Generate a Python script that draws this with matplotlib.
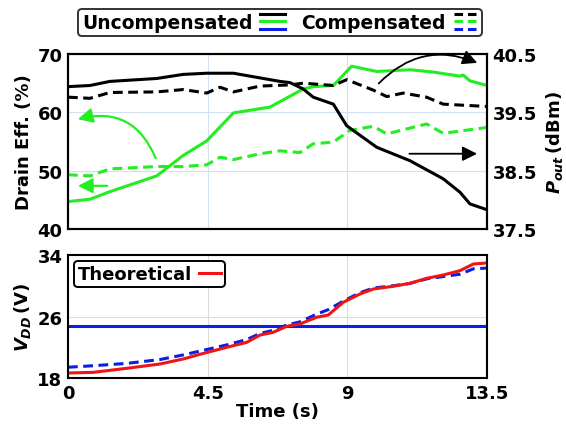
import numpy as np
import matplotlib
matplotlib.use('Agg')
from matplotlib import pyplot as plt
from matplotlib.lines import Line2D
from matplotlib.legend_handler import HandlerBase

plt.rcParams['font.family'] = ['DejaVu Sans']
plt.rcParams['font.weight'] = 'bold'
plt.rcParams['axes.labelweight'] = 'bold'
plt.rcParams['mathtext.fontset'] = 'custom'
plt.rcParams['mathtext.it'] = 'DejaVu Sans:italic:bold'
plt.rcParams['mathtext.rm'] = 'DejaVu Sans:bold'

# --- top panel: output power (right axis) ---
t_pout_unc = [0, 0.71, 1.35, 2.86, 3.71, 4.47, 5.33, 6.83, 7.15, 7.58, 7.90, 8.55,
              8.98, 9.95, 11.02, 12.09, 12.63, 12.95, 13.5]
pout_unc = [39.94, 39.96, 40.03, 40.08, 40.15, 40.17, 40.17, 40.03, 40.01, 39.90, 39.76, 39.64,
            39.27, 38.90, 38.67, 38.36, 38.13, 37.93, 37.83]
t_pout_comp = [0, 0.71, 1.35, 2.86, 3.71, 4.47, 4.90, 5.33, 6.19, 7.15, 7.58, 8.55,
               8.98, 9.84, 10.27, 10.80, 11.55, 12.09, 13.5]
pout_comp = [39.76, 39.74, 39.84, 39.85, 39.89, 39.83, 39.93, 39.85, 39.95, 39.97, 40.0, 39.96,
             40.06, 39.88, 39.77, 39.83, 39.76, 39.64, 39.60]

# --- top panel: drain efficiency (left axis) ---
t_eff_unc = [0, 0.71, 1.35, 2.86, 3.71, 4.47, 5.33, 6.51, 7.58, 7.90, 8.55,
             9.14, 9.95, 11.02, 11.77, 12.63, 12.73, 12.95, 13.5]
eff_unc = [44.7, 45.1, 46.4, 49.1, 52.6, 55.1, 59.9, 60.9, 64.0, 64.4, 64.6,
           67.9, 67.0, 67.3, 66.9, 66.2, 66.4, 65.4, 64.6]
t_eff_comp = [0, 0.71, 1.35, 2.86, 3.71, 4.47, 4.90, 5.33, 6.19, 6.83, 7.47, 7.90, 8.55,
              9.08, 9.84, 10.27, 11.55, 12.09, 13.5]
eff_comp = [49.3, 49.1, 50.3, 50.7, 50.7, 51.0, 52.3, 51.9, 52.9, 53.4, 53.1, 54.6, 54.9,
            56.9, 57.6, 56.3, 58.0, 56.4, 57.4]

# --- bottom panel: supply voltage ---
t_vdd = [0, 0.82, 1.89, 2.96, 3.71, 4.25, 5.11, 5.76, 6.19, 6.61, 7.05, 7.47, 8.01,
         8.39, 8.87, 9.41, 9.84, 10.48, 11.02, 11.56, 12.09, 12.63, 13.06, 13.5]
vdd_theory = [18.65, 18.74, 19.26, 19.82, 20.47, 21.08, 21.99, 22.64, 23.59, 23.94, 24.73, 25.02, 25.90,
              26.20, 27.85, 28.93, 29.58, 29.93, 30.32, 30.97, 31.40, 31.96, 32.83, 32.96]
vdd_comp = [19.4, 19.6, 19.9, 20.4, 21.0, 21.5, 22.3, 23.0, 23.8, 24.2, 24.9, 25.3, 26.3,
            26.9, 28.0, 29.1, 29.7, 30.0, 30.3, 30.9, 31.2, 31.5, 32.2, 32.3]
vdd_unc = 24.8

GREEN = '#22ee22'
BLUE = '#0a1ee6'
RED = '#f01414'
LW = 2.2
DASH = (3.2, 1.8)
FS = 13

fig = plt.figure(figsize=(5.66, 4.35), dpi=100)
ax1 = fig.add_axes([0.1201, 0.4713, 0.7403, 0.4023])
ax2 = ax1.twinx()
ax3 = fig.add_axes([0.1201, 0.1287, 0.7403, 0.2828])

for ax in (ax1, ax3):
    ax.set_xlim(0, 13.5)
    ax.set_xticks([0, 4.5, 9, 13.5])
    ax.set_xticklabels(['0', '4.5', '9', '13.5'])

ax1.grid(True, color='#d2e2f2', lw=0.8)
ax1.set_axisbelow(True)
ax1.set_ylim(40, 70)
ax1.set_yticks([40, 50, 60, 70])
ax1.tick_params(labelbottom=False)
ax1.set_ylabel('Drain Eff. (%)', fontsize=FS, labelpad=3)
ax1.plot(t_eff_unc, eff_unc, color=GREEN, lw=LW)
ax1.plot(t_eff_comp, eff_comp, color=GREEN, lw=LW, dashes=DASH)

ax2.set_ylim(37.5, 40.5)
ax2.set_yticks([37.5, 38.5, 39.5, 40.5])
ax2.set_yticklabels(['37.5', '38.5', '39.5', '40.5'])
ax2.set_ylabel(r'$P_{out}\,$(dBm)', fontsize=FS, labelpad=5)
ax2.plot(t_pout_unc, pout_unc, color='black', lw=LW)
ax2.plot(t_pout_comp, pout_comp, color='black', lw=LW, dashes=DASH)

# arrows pointing to the axes
ax1.annotate('', xy=(0.23, 58.7), xytext=(2.86, 51.7),
             arrowprops=dict(arrowstyle='-|>', color=GREEN, lw=1.6, mutation_scale=22,
                             connectionstyle='arc3,rad=0.45'))
ax1.annotate('', xy=(0.23, 47.4), xytext=(1.35, 47.4),
             arrowprops=dict(arrowstyle='-|>', color=GREEN, lw=1.6, mutation_scale=22))
ax2.annotate('', xy=(13.27, 40.33), xytext=(9.95, 39.96),
             arrowprops=dict(arrowstyle='-|>', color='black', lw=1.3, mutation_scale=22,
                             connectionstyle='arc3,rad=-0.35'))
ax2.annotate('', xy=(13.27, 38.79), xytext=(10.91, 38.79),
             arrowprops=dict(arrowstyle='-|>', color='black', lw=1.3, mutation_scale=22))

ax3.grid(True, color='#dcdcdc', lw=0.8)
ax3.set_axisbelow(True)
ax3.set_ylim(18, 34)
ax3.set_yticks([18, 26, 34])
ax3.set_ylabel(r'$V_{DD}\,$(V)', fontsize=FS, labelpad=3)
ax3.set_xlabel('Time (s)', fontsize=FS, labelpad=0)
ax3.axhline(vdd_unc, color=BLUE, lw=LW)
ax3.plot(t_vdd, vdd_comp, color=BLUE, lw=LW, dashes=DASH)
ax3.plot(t_vdd, vdd_theory, color=RED, lw=LW, label='Theoretical')
leg3 = ax3.legend(loc='upper left', markerfirst=False, fontsize=FS, handlelength=1.2,
                  handletextpad=0.4, borderpad=0.2, borderaxespad=0.35, fancybox=True)
leg3.get_frame().set_edgecolor('black')
leg3.get_frame().set_linewidth(1.4)
leg3.get_frame().set_alpha(1)

for ax in (ax1, ax2, ax3):
    ax.tick_params(length=0, labelsize=FS, pad=4)
    for s in ax.spines.values():
        s.set_linewidth(1.5)


class StackHandler(HandlerBase):
    def __init__(self, dashed):
        super().__init__()
        self.dashed = dashed

    def create_artists(self, legend, orig_handle, xdescent, ydescent, width, height,
                       fontsize, trans):
        arts = []
        for frac, c in zip([1.1, 0.5, -0.1], ['black', GREEN, BLUE]):
            y = -ydescent + height * frac
            ln = Line2D([-xdescent, width - xdescent], [y, y], color=c, lw=LW, transform=trans)
            if self.dashed:
                ln.set_dashes((2.8, 1.6))
            arts.append(ln)
        return arts


h_unc = Line2D([], [])
h_comp = Line2D([], [])
leg = fig.legend([h_unc, h_comp], ['Uncompensated', 'Compensated'],
                 handler_map={h_unc: StackHandler(False), h_comp: StackHandler(True)},
                 loc='center', bbox_to_anchor=(0.495, 0.946), ncol=2, markerfirst=False,
                 fontsize=13.5, handlelength=1.3, handletextpad=0.4, columnspacing=0.9,
                 borderpad=0.22, fancybox=True)
leg.get_frame().set_edgecolor('black')
leg.get_frame().set_linewidth(1.4)

fig.savefig('out.png', dpi=100)
